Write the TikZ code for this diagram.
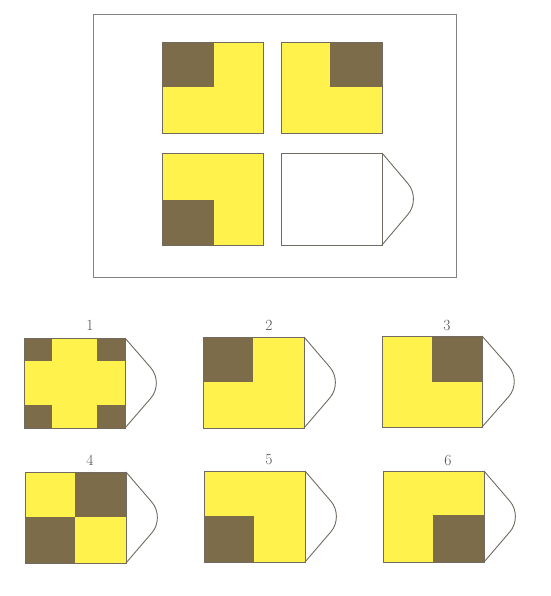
\documentclass[tikz,border=0pt]{standalone}
\definecolor{tileyellow}{RGB}{255,242,76}
\definecolor{tiledark}{RGB}{124,108,74}
\definecolor{edgegray}{RGB}{112,106,96}
\definecolor{framegray}{RGB}{130,130,130}
\definecolor{labelgray}{RGB}{80,80,80}
\tikzset{
  yel/.style={fill=tileyellow},
  drk/.style={fill=tiledark},
  outl/.style={draw=edgegray, line width=0.9pt},
  capline/.style={draw=edgegray, line width=0.9pt, rounded corners=20pt},
  lbl/.style={font=\fontsize{15.5}{15.5}\selectfont, text=labelgray, inner sep=0pt}
}
\begin{document}
\begin{tikzpicture}[x=1pt,y=-1pt]
\useasboundingbox (0,0) rectangle (550,596);
% frame
\draw[draw=framegray, line width=1pt] (93,15) rectangle (456,277);
% top-left
\fill[yel] (162,42) rectangle (263,133);
\fill[drk] (162,42) rectangle (214,87);
\draw[outl] (162,42) rectangle (263,133);
% top-right
\fill[yel] (281,42) rectangle (382,133);
\fill[drk] (330,42) rectangle (382,87);
\draw[outl] (281,42) rectangle (382,133);
% bottom-left
\fill[yel] (162,153) rectangle (263,245);
\fill[drk] (162,200) rectangle (214,245);
\draw[outl] (162,153) rectangle (263,245);
% bottom-right (blank)
\draw[outl] (281,153) rectangle (382,245);
\coordinate (t0) at (421,199);
\draw[capline] (382,153) -- (t0) -- (382,245);
% option 1
\node[lbl] (l1) at (90,325) {1};
\fill[yel] (24,338) rectangle (125,428);
\fill[drk] (24,338) rectangle (52,361);
\fill[drk] (97,338) rectangle (125,361);
\fill[drk] (24,405) rectangle (52,428);
\fill[drk] (97,405) rectangle (125,428);
\draw[outl] (24,338) rectangle (125,428);
\coordinate (t1) at (164,383);
\draw[capline] (125,338) -- (t1) -- (125,428);
% option 2
\node[lbl] (l2) at (269,325) {2};
\fill[yel] (203,337) rectangle (304,428);
\fill[drk] (203,337) rectangle (253,382);
\draw[outl] (203,337) rectangle (304,428);
\coordinate (t2) at (343,382.5);
\draw[capline] (304,337) -- (t2) -- (304,428);
% option 3
\node[lbl] (l3) at (447,325) {3};
\fill[yel] (382,336) rectangle (482,427);
\fill[drk] (432,336) rectangle (482,382);
\draw[outl] (382,336) rectangle (482,427);
\coordinate (t3) at (522,381.5);
\draw[capline] (482,336) -- (t3) -- (482,427);
% option 4
\node[lbl] (l4) at (90,460) {4};
\fill[yel] (25,472) rectangle (126,563);
\fill[drk] (75,472) rectangle (126,517);
\fill[drk] (25,517) rectangle (75,563);
\draw[outl] (25,472) rectangle (126,563);
\coordinate (t4) at (165,517.5);
\draw[capline] (126,472) -- (t4) -- (126,563);
% option 5
\node[lbl] (l5) at (269,460) {5};
\fill[yel] (204,471) rectangle (305,562);
\fill[drk] (204,516) rectangle (254,562);
\draw[outl] (204,471) rectangle (305,562);
\coordinate (t5) at (344,516.5);
\draw[capline] (305,471) -- (t5) -- (305,562);
% option 6
\node[lbl] (l6) at (448,460) {6};
\fill[yel] (383,471) rectangle (484,562);
\fill[drk] (433,515) rectangle (484,562);
\draw[outl] (383,471) rectangle (484,562);
\coordinate (t6) at (523,516.5);
\draw[capline] (484,471) -- (t6) -- (484,562);
\end{tikzpicture}
\end{document}
